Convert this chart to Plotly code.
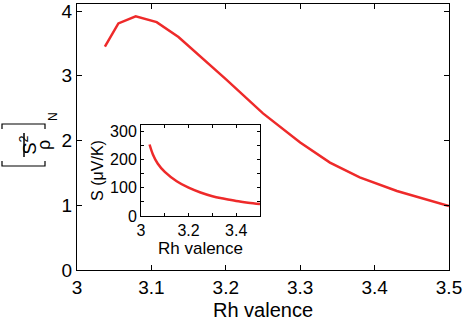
import plotly.graph_objects as go

# main panel: normalised power factor vs Rh valence
valence = [3.0375, 3.0556, 3.0789, 3.1071, 3.1364, 3.1667, 3.2, 3.25, 3.3, 3.34, 3.38, 3.43, 3.5]
power_factor = [3.45, 3.81, 3.92, 3.83, 3.60, 3.29, 2.95, 2.42, 1.97, 1.66, 1.43, 1.22, 0.99]

# inset: Seebeck coefficient vs Rh valence
inset_valence = [3.036, 3.05, 3.07, 3.1, 3.15, 3.2, 3.25, 3.3, 3.35, 3.4, 3.45, 3.5]
seebeck = [253, 218, 186, 156, 123, 100, 83, 70, 61, 53, 47, 42]

main_xticks = [3, 3.1, 3.2, 3.3, 3.4, 3.5]
main_yticks = [0, 1, 2, 3, 4]
inset_xticks = [3, 3.1, 3.2, 3.3, 3.4, 3.5]
inset_xlabels = ["3", " ", "3.2", " ", "3.4", " "]
inset_yticks = [0, 50, 100, 150, 200, 250, 300]
inset_ylabels = ["0", " ", "100", " ", "200", " ", "300"]

RED = "#ee2a2a"
FONT = "Liberation Sans, Arial, sans-serif"

W, H = 463, 324
L, R, T, B = 77, 14, 4, 54


def px(x):
    return (x - L) / (W - L - R)


def py(y):
    return (H - B - y) / (H - T - B)


fig = go.Figure()
fig.add_trace(go.Scatter(x=valence, y=power_factor, mode="lines",
                         line=dict(color=RED, width=2.5), showlegend=False))
fig.add_trace(go.Scatter(x=inset_valence, y=seebeck, mode="lines", xaxis="x2", yaxis="y2",
                         line=dict(color=RED, width=2.5, shape="spline"), showlegend=False))

axis_common = dict(showline=True, linecolor="black", linewidth=1, mirror="ticks",
                   ticks="inside", tickcolor="black", showgrid=False, zeroline=False,
                   automargin=False)

fig.update_layout(
    width=W, height=H,
    margin=dict(l=L, r=R, t=T, b=B),
    plot_bgcolor="white", paper_bgcolor="white",
    font=dict(family=FONT, color="black"),
    xaxis=dict(range=[3, 3.5], tickvals=main_xticks, ticklen=5,
               tickfont=dict(size=19), title=dict(text="Rh valence", font=dict(size=20), standoff=6),
               **axis_common),
    yaxis=dict(range=[0, 4.11], tickvals=main_yticks, ticklen=5,
               tickfont=dict(size=19), **axis_common),
    xaxis2=dict(domain=[px(141), px(260)], anchor="y2", range=[3, 3.5],
                tickvals=inset_xticks, ticktext=inset_xlabels, ticklen=3,
                tickfont=dict(size=16), title=dict(text="Rh valence", font=dict(size=17), standoff=2),
                **axis_common),
    yaxis2=dict(domain=[py(216), py(125)], anchor="x2", range=[0, 322],
                tickvals=inset_yticks, ticktext=inset_ylabels, ticklen=3,
                tickfont=dict(size=16), title=dict(text="S (μV/K)", font=dict(size=16), standoff=2),
                **axis_common),
)

# y-axis label [S^2/rho]_N drawn rotated
cy = 145
label_font = dict(family=FONT, size=18, color="black")
fig.add_annotation(x=px(15), y=py(cy), xref="paper", yref="paper", text="S<sup>2</sup>",
                   textangle=-90, showarrow=False, font=label_font)
fig.add_annotation(x=px(32), y=py(cy), xref="paper", yref="paper", text="ρ",
                   textangle=-90, showarrow=False, font=label_font)
fig.add_annotation(x=px(44), y=py(117), xref="paper", yref="paper", text="N",
                   textangle=-90, showarrow=False, font=dict(family=FONT, size=12, color="black"))
fig.add_shape(type="line", xref="paper", yref="paper", x0=px(24), x1=px(24),
              y0=py(cy - 12), y1=py(cy + 12), line=dict(color="black", width=1.5))
for yb, d in [(cy - 21, 5), (cy + 21, -5)]:
    fig.add_shape(type="path", xref="paper", yref="paper",
                  path=f"M {px(2)} {py(yb + d)} L {px(2)} {py(yb)} L {px(45)} {py(yb)} L {px(45)} {py(yb + d)}",
                  line=dict(color="black", width=1.2))

# drop the browser's default 8px body margin so the figure sits at the page corner
fig.write_html("out.html", config={"displayModeBar": False},
               post_script="document.body.style.margin='0';")
